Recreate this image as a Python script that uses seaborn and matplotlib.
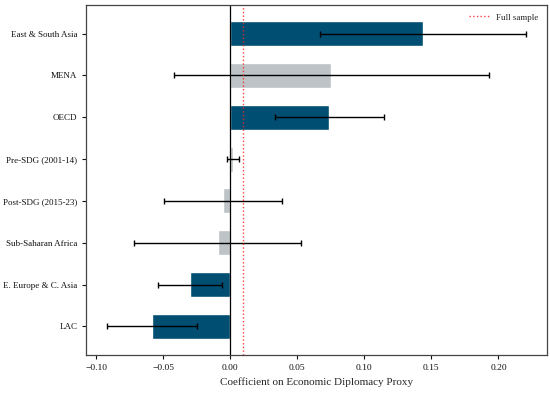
import numpy as np
import pandas as pd
import matplotlib.pyplot as plt
import seaborn as sns

# --- DATA ---
groups = ["East & South Asia", "MENA", "OECD", "Pre-SDG (2001-14)",
          "Post-SDG (2015-23)", "Sub-Saharan Africa", "E. Europe & C. Asia", "LAC"]
coef = [0.1437, 0.0754, 0.0737, 0.0017, -0.0052, -0.0094, -0.0303, -0.0583]
ci_low = [0.0668, -0.0419, 0.0335, -0.0025, -0.0494, -0.0722, -0.0541, -0.0918]
ci_high = [0.2204, 0.1926, 0.1144, 0.0065, 0.0385, 0.0529, -0.0065, -0.0248]
significant = [True, False, True, False, False, False, True, True]
full_sample = 0.0092
xticks = [-0.10, -0.05, 0.0, 0.05, 0.10, 0.15, 0.20]

BLUE = "#004f73"
GREY = "#bdc3c7"


def make_plot():
    df = pd.DataFrame({"group": groups, "coef": coef,
                       "lo": ci_low, "hi": ci_high, "sig": significant})

    sns.set_style("white")
    plt.rcParams["font.family"] = ["Liberation Serif", "DejaVu Serif"]

    fig, ax = plt.subplots(figsize=(5.5, 3.93), dpi=100)
    sns.barplot(data=df, y="group", x="coef", hue="sig",
                palette={True: BLUE, False: GREY}, dodge=False,
                width=0.6, saturation=1, legend=False, ax=ax, orient="h")

    # confidence intervals
    xerr = np.array([df["coef"] - df["lo"], df["hi"] - df["coef"]])
    ax.errorbar(df["coef"], np.arange(len(df)), xerr=xerr, fmt="none",
                ecolor="black", elinewidth=1.0, capsize=2.5, capthick=1.0)

    ax.axvline(0, color="black", linewidth=0.9)
    ax.axvline(full_sample, color="#ff2020", linestyle=":", linewidth=1.0,
               alpha=0.85, label="Full sample")

    ax.set_xlim(-0.1074, 0.236)
    ax.set_xticks(xticks)
    ax.set_xticklabels([f"{t:.2f}".replace("-", "\u2212") for t in xticks])
    ax.set_xlabel("Coefficient on Economic Diplomacy Proxy", fontsize=8)
    ax.set_ylabel("")
    ax.tick_params(axis="both", length=3, width=0.8,
                   left=True, bottom=True, colors="#111111")
    ax.tick_params(axis="x", labelsize=6.8)
    ax.tick_params(axis="y", labelsize=6.5)
    for s in ax.spines.values():
        s.set_color("#444444")
        s.set_linewidth(0.9)

    ax.legend(loc="upper right", frameon=False, fontsize=6.5,
              handlelength=2.2)

    fig.subplots_adjust(left=0.157, right=0.994, top=0.987, bottom=0.097)
    fig.savefig("out.png", dpi=100)


if __name__ == "__main__":
    make_plot()
